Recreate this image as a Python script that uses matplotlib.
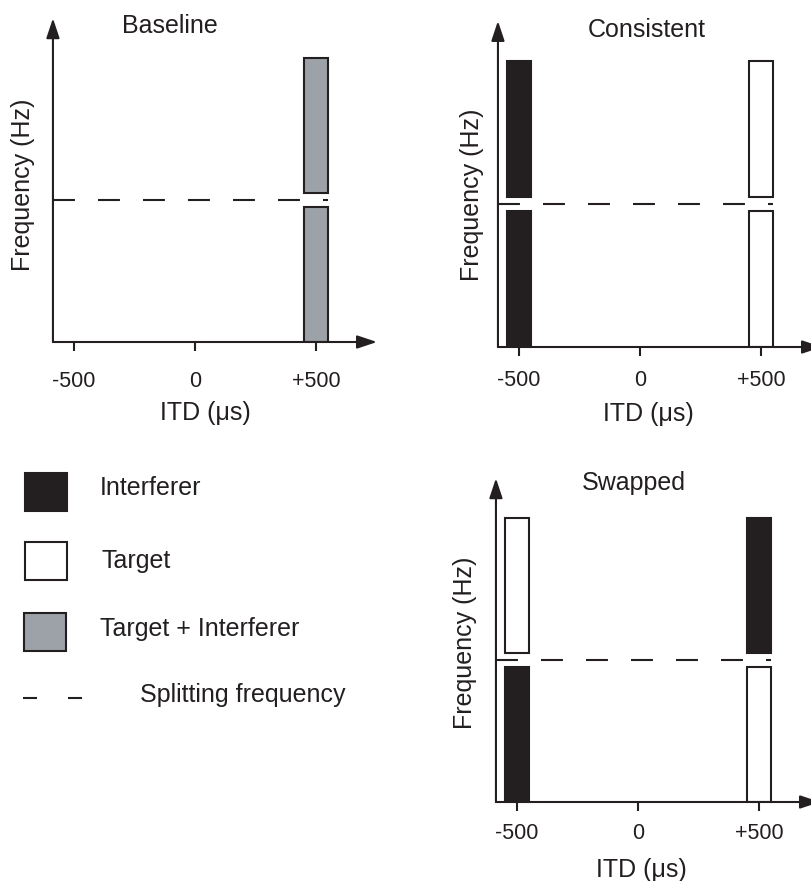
import matplotlib
matplotlib.use('Agg')
import matplotlib.pyplot as plt
from matplotlib.patches import Rectangle

plt.rcParams['font.family'] = ['Liberation Sans', 'DejaVu Sans']
plt.rcParams['lines.scale_dashes'] = False

# ---------------- data ----------------
titles = ['Baseline', 'Consistent', 'Swapped']
itd_ticks = [-500, 0, 500]
itd_tick_labels = ['-500', '0', '+500']
band_itds = [-500, 500]
split_frequency = 1.0
top_frequency = 2.0
baseline_low = ['', 'Target + Interferer']
baseline_high = ['', 'Target + Interferer']
consistent_low = ['Interferer', 'Target']
consistent_high = ['Interferer', 'Target']
swapped_low = ['Interferer', 'Target']
swapped_high = ['Target', 'Interferer']
legend_labels = ['Interferer', 'Target', 'Target + Interferer']
split_label = 'Splitting frequency'
xlabel = 'ITD (\u03bcs)'
ylabel = 'Frequency (Hz)'

# ---------------- style ----------------
W, H, DPI = 812, 881, 100
INK = '#231f20'
fills = {'Interferer': INK, 'Target': 'white', 'Target + Interferer': '#9da2a8'}
BAR_W = 100
GAP = 0.05
AX_START = -587
X_TIP = 752
Y_TIP = 2.28
LW = 1.5

fig = plt.figure(figsize=(W / DPI, H / DPI), dpi=DPI)
fig.patch.set_facecolor('white')


def make_panel(x0, y0, sy, sx=121 / 500, xlim=(-600, 770), ylim=(0, 2.4)):
    left = (x0 + xlim[0] * sx) / W
    right = (x0 + xlim[1] * sx) / W
    bottom = 1 - (y0 - ylim[0] * sy) / H
    top = 1 - (y0 - ylim[1] * sy) / H
    ax = fig.add_axes([left, bottom, right - left, top - bottom])
    ax.set_xlim(xlim)
    ax.set_ylim(ylim)
    for s in ax.spines.values():
        s.set_visible(False)
    ax.set_yticks([])
    ax.patch.set_alpha(0)
    return ax


def draw_panel(ax, low, high, pad):
    for itd, lo, hi in zip(band_itds, low, high):
        if lo:
            ax.bar(itd, split_frequency - GAP, width=BAR_W, bottom=0,
                   color=fills[lo], edgecolor=INK, linewidth=LW, zorder=3)
        if hi:
            ax.bar(itd, top_frequency - split_frequency - GAP, width=BAR_W,
                   bottom=split_frequency + GAP,
                   color=fills[hi], edgecolor=INK, linewidth=LW, zorder=3)
    ax.plot([AX_START, max(band_itds) + BAR_W / 2],
            [split_frequency, split_frequency], color=INK, lw=LW,
            dashes=(15.8, 16.6), solid_capstyle='butt', dash_capstyle='butt',
            zorder=2)
    arrow = dict(arrowstyle='-|>,head_length=0.6,head_width=0.2',
                 mutation_scale=20, lw=LW, color=INK, shrinkA=0, shrinkB=0)
    ax.annotate('', xy=(AX_START, Y_TIP), xytext=(AX_START, 0),
                arrowprops=arrow, annotation_clip=False, zorder=4)
    ax.annotate('', xy=(X_TIP, 0), xytext=(AX_START, 0),
                arrowprops=arrow, annotation_clip=False, zorder=4)
    ax.set_xticks(itd_ticks, labels=itd_tick_labels)
    ax.tick_params(axis='x', direction='out', length=6.5, width=LW,
                   color=INK, labelcolor=INK, labelsize=15.5, pad=pad)


def ftext(x, y, s, **kw):
    kw.setdefault('fontsize', 18)
    kw.setdefault('color', INK)
    fig.text(x / W, 1 - y / H, s, **kw)


# Panel 1: Baseline
ax1 = make_panel(195, 342, 142)
draw_panel(ax1, baseline_low, baseline_high, pad=14.4)
ftext(170, 33, titles[0], ha='center', va='baseline')
ftext(205, 420, xlabel, ha='center', va='baseline')
ftext(23, 185, ylabel, ha='center', va='center', rotation=90)

# Panel 2: Consistent
ax2 = make_panel(640, 347, 143)
draw_panel(ax2, consistent_low, consistent_high, pad=10)
ftext(647, 37, titles[1], ha='center', va='baseline')
ftext(648, 421, xlabel, ha='center', va='baseline')
ftext(472, 195, ylabel, ha='center', va='center', rotation=90)

# Panel 3: Swapped
ax3 = make_panel(638, 802, 142)
draw_panel(ax3, swapped_low, swapped_high, pad=8.6)
ftext(634, 490, titles[2], ha='center', va='baseline')
ftext(641, 877, xlabel, ha='center', va='baseline')
ftext(465, 643, ylabel, ha='center', va='center', rotation=90)

# Legend
leg = fig.add_axes([0, 0, 1, 1], zorder=-1)
leg.set_xlim(0, W)
leg.set_ylim(H, 0)
leg.axis('off')
leg_boxes = [(25, 473), (25, 542), (24, 613)]
leg_text = [(100, 495), (102, 568), (100, 636)]
for (bx, by), (tx, ty), lab in zip(leg_boxes, leg_text, legend_labels):
    leg.add_patch(Rectangle((bx, by), 42, 38, facecolor=fills[lab],
                            edgecolor=INK, linewidth=LW))
    leg.text(tx, ty, lab, fontsize=18, color=INK, va='baseline', ha='left')
leg.plot([23, 83], [698, 698], color=INK, lw=LW, dashes=(10.1, 22.3))
leg.text(140, 702, split_label, fontsize=18, color=INK, va='baseline', ha='left')

fig.savefig('out.png', dpi=DPI, facecolor='white')
